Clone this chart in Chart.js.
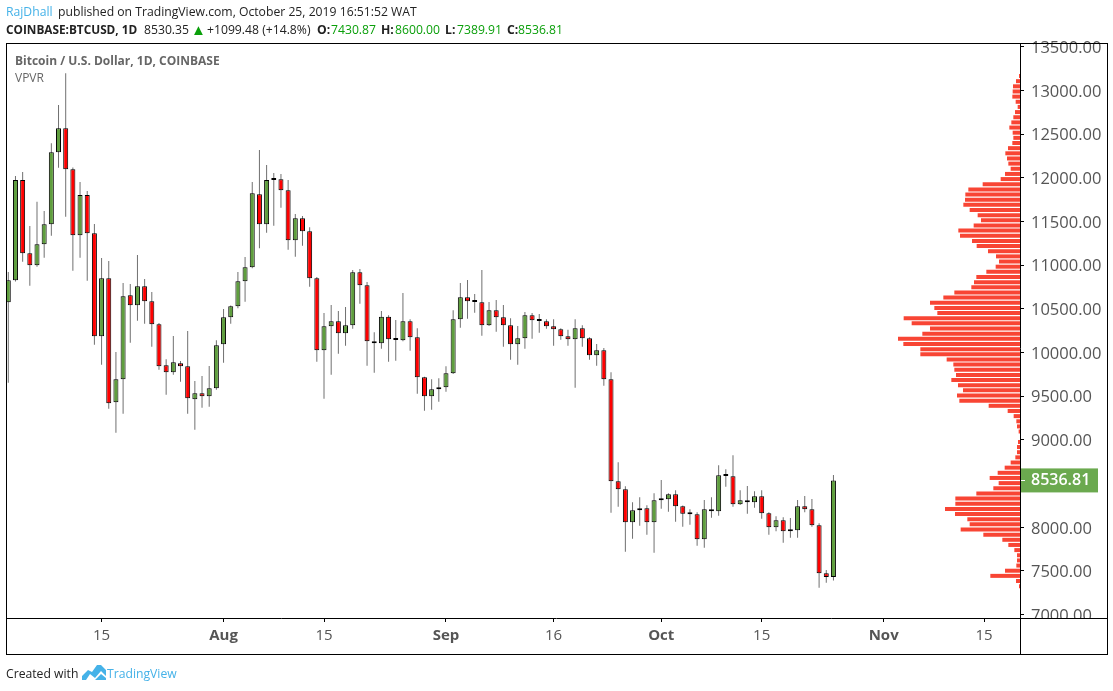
<!DOCTYPE html>
<html>
<head>
<meta charset="utf-8">
<script src="https://cdn.jsdelivr.net/npm/chart.js@4"></script>
<style>
  html, body { margin: 0; padding: 0; background: #fff; }
  #wrap { position: relative; width: 1113px; height: 691px; overflow: hidden; font-family: "Open Sans", sans-serif; }
  #wrap span { position: absolute; white-space: nowrap; }
  canvas { position: absolute; left: 0; top: 0; }
  #logo { position: absolute; left: 82px; top: 665px; }
  .head { font-size: 12.2px; color: #222; }
  .b { font-weight: 700; }
  .g { color: #0a9f0a; }
  .blue { color: #45b2e8; }
  .over { color: #666; font-size: 12px; }
</style>
</head>
<body>
<div id="wrap">
  <canvas id="chart" width="1113" height="691"></canvas>
  <span class="head blue" style="left:6px;top:3px">RajDhall</span>
  <span class="head" style="left:58px;top:3px">published on TradingView.com, October 25, 2019 16:51:52 WAT</span>
  <span class="head b" style="left:6px;top:21px;font-size:11.8px">COINBASE:BTCUSD, 1D</span>
  <span class="head" style="left:144px;top:21px">8530.35</span>
  <span class="head g" style="left:191px;top:19px;font-size:15px">▲</span>
  <span class="head" style="left:207px;top:21px">+1099.48 (+14.8%)</span>
  <span class="head b" style="left:317px;top:21px">O:</span>
  <span class="head g" style="left:331px;top:21px">7430.87</span>
  <span class="head b" style="left:381px;top:21px">H:</span>
  <span class="head g" style="left:395px;top:21px">8600.00</span>
  <span class="head b" style="left:445px;top:21px">L:</span>
  <span class="head g" style="left:457px;top:21px">7389.91</span>
  <span class="head b" style="left:507px;top:21px">C:</span>
  <span class="head g" style="left:518px;top:21px">8536.81</span>
  <span class="over b" style="left:15px;top:52px">Bitcoin / U.S. Dollar, 1D, COINBASE</span>
  <span class="over" style="left:15px;top:69px">VPVR</span>
  <span class="head" style="left:6px;top:665px">Created with</span>
  <svg id="logo" width="24" height="16" viewBox="0 0 24 16"><path d="M0 15 L0 11 L6 5 L10 7 L15 0 L19 0 L24 5 L24 11 L19 6 L13 13 L8 9 L4 15 Z M10 15 L13 15 L19 9 L24 13 L24 15 Z" fill="#45b2e8"/></svg>
  <span class="head blue" style="left:107px;top:665px">TradingView</span>
</div>
<script>
// daily candles, 2 Jul 2019 to 25 Oct 2019
const opens = [10576,10828,11976,11137,11000,11240,11469,12294,12568,12099,11343,11805,11366,10187,10851,9431,9694,10656,10542,10759,10588,10324,9855,9775,9878,9843,9465,9534,9500,9591,10095,10404,10530,10817,10977,11813,11469,11976,11984,11859,11286,11538,11389,10851,10027,10301,10359,10221,10313,10920,10771,10130,10107,10411,10152,10141,10359,10175,9717,9500,9580,9603,9763,10381,10633,10588,10576,10313,10485,10404,10313,10095,10164,10427,10370,10359,10301,10267,10187,10152,10278,10164,9969,10027,9694,8527,8435,8057,8194,8217,8057,8309,8320,8378,8240,8156,8149,7862,8206,8183,8595,8584,8263,8309,8286,8355,8160,8000,8080,7954,7965,8240,8206,8023,7473,7430.87];
const highs = [10923,12022,12068,11450,11728,11621,12397,12835,13198,12120,11954,11850,11473,11083,11049,10007,10797,10786,11118,10843,10694,10340,9923,10190,9904,10247,9675,9732,9847,10141,10499,10540,10923,11095,11954,12320,12148,12057,12045,11976,11587,11564,11435,10866,10454,10545,10476,10522,10946,10957,10809,10233,10476,10427,10373,10683,10381,10278,9725,9694,9706,9843,10485,10797,10831,10671,10946,10580,10602,10545,10393,10305,10465,10454,10442,10381,10381,10278,10262,10381,10313,10175,10099,10053,9775,8744,8469,8286,8343,8252,8389,8541,8389,8423,8250,8206,8172,8312,8343,8710,8664,8824,8423,8473,8412,8423,8172,8126,8114,8106,8312,8358,8324,8046,7511,8600];
const lows = [9656,10815,11041,10766,10984,11087,11339,12117,11556,10938,11087,10823,10091,9862,9358,9083,9301,10114,10365,10331,10068,9804,9518,9747,9667,9301,9117,9369,9381,9575,9885,10331,10507,10583,10965,11194,11373,11453,11659,11178,11098,11224,10755,9896,9472,9747,9988,10079,10274,10560,9850,9770,10045,9896,9907,10130,10022,9530,9335,9346,9438,9552,9755,10285,10388,10457,10194,10305,10239,10068,9919,9862,10045,10159,10228,10274,10079,10148,10079,9598,10068,9919,9850,9621,8167,8236,7720,7869,8018,7915,7709,8213,8178,8064,8007,8030,7789,7766,8110,8133,8465,8236,8255,8156,8224,8098,7915,7954,7824,7881,7881,8172,8007,7308,7366,7389.91];
const closes = [10828,11976,11137,11000,11240,11469,12294,12568,12099,11343,11805,11366,10187,10851,9420,9694,10645,10542,10759,10588,10324,9843,9775,9889,9843,9477,9534,9500,9591,10084,10404,10530,10817,10977,11824,11469,11976,11984,11859,11286,11538,11389,10851,10027,10301,10359,10221,10313,10920,10771,10130,10107,10411,10152,10145,10359,10175,9717,9500,9580,9603,9763,10381,10633,10588,10580,10313,10485,10404,10313,10095,10164,10427,10370,10362,10301,10267,10187,10152,10278,10164,9969,10027,9694,8527,8435,8057,8194,8217,8057,8309,8316,8378,8240,8156,8150,7862,8206,8183,8595,8587,8263,8309,8286,8355,8160,8000,8080,7954,7961,8240,8206,8023,7473,7431,8536.81];

// visible range profile: price level of each row and its relative volume
const vpLevels = [13167,13108,13049,12990,12931,12872,12813,12754,12695,12636,12577,12518,12459,12400,12341,12282,12223,12164,12105,12046,11987,11928,11869,11810,11751,11692,11633,11574,11515,11456,11397,11338,11279,11220,11161,11102,11043,10984,10925,10866,10807,10748,10689,10630,10571,10512,10453,10394,10335,10276,10217,10158,10099,10040,9981,9922,9863,9804,9745,9686,9627,9568,9509,9450,9391,9332,9273,9214,9155,9096,9037,8978,8919,8860,8801,8742,8683,8624,8565,8506,8447,8388,8329,8270,8211,8152,8093,8034,7975,7916,7857,7798,7739,7680,7621,7562,7503,7444,7385,7326];
const vpVolumes = [3,12,21,22,23,13,7,15,20,26,32,22,20,23,36,44,39,35,28,45,58,112,155,164,165,170,151,127,117,139,185,180,144,130,96,72,63,73,101,131,138,146,197,230,270,257,248,349,325,270,293,366,350,299,299,220,200,197,192,206,186,171,189,182,94,37,19,11,9,4,0,6,9,9,14,28,46,67,91,64,80,131,194,194,225,195,158,151,178,110,53,35,17,9,9,11,45,89,12,3];

const priceTicks = [7000,7500,8000,8500,9000,9500,10000,10500,11000,11500,12000,12500,13000,13500];
const dateTicks = [13,30,44,61,76,91,105,122,136];
const dateLabels = ["15","Aug","15","Sep","16","Oct","15","Nov","15"];
const lastPrice = 8536.81;

const GREEN = "#5f9e3e";
const RED = "#ff0000";
const TEXT = "#555";
const FONT = "'Open Sans', sans-serif";

const wicks = highs.map((h, i) => ({ x: i, y: [lows[i], h] }));
const bodies = opens.map((o, i) => ({ x: i, y: [o, closes[i]] }));
const bodyColors = opens.map((o, i) => (closes[i] >= o ? GREEN : RED));
const profile = vpVolumes.map((v, i) => ({ x: v, y: vpLevels[i] }));

// outer frame and the last price tag
const framePlugin = {
  id: "frame",
  afterDraw(chart) {
    const { ctx, chartArea: a, scales } = chart;
    ctx.save();
    // the lowest price label is cut off by the date strip
    ctx.fillStyle = "#fff";
    ctx.fillRect(a.right + 1, a.bottom + 1, 85, 9);
    ctx.strokeStyle = "#000";
    ctx.lineWidth = 1;
    ctx.strokeRect(a.left + 0.5, a.top + 0.5, 1107 - a.left, 654 - a.top);
    ctx.beginPath();
    ctx.moveTo(a.right + 0.5, a.top);
    ctx.lineTo(a.right + 0.5, 654);
    ctx.moveTo(a.left, a.bottom + 0.5);
    ctx.lineTo(1107, a.bottom + 0.5);
    ctx.stroke();
    const y = scales.y.getPixelForValue(lastPrice);
    ctx.fillStyle = "#6ba94f";
    ctx.fillRect(a.right + 1, y - 12, 77, 24);
    ctx.fillStyle = "#fff";
    ctx.fillRect(a.right + 1, Math.round(y), 4, 1);
    ctx.font = "600 16px " + FONT;
    ctx.textBaseline = "middle";
    ctx.fillText(lastPrice.toFixed(2), a.right + 11, y + 0.5);
    ctx.restore();
  },
};

new Chart(document.getElementById("chart"), {
  type: "bar",
  data: {
    datasets: [
      { data: wicks, backgroundColor: "#707070", barThickness: 1, grouped: false, inflateAmount: 0, order: 3 },
      { data: bodies, backgroundColor: bodyColors, borderColor: "#000", borderWidth: 1, borderSkipped: false, barThickness: 5, minBarLength: 2, grouped: false, inflateAmount: 0, order: 2 },
      { data: profile, indexAxis: "y", xAxisID: "vol", backgroundColor: "#f84534", barThickness: 4, grouped: false, inflateAmount: 0, order: 1 },
    ],
  },
  options: {
    responsive: false,
    animation: false,
    events: [],
    layout: { padding: { left: 6, top: 43, right: 6, bottom: 37 } },
    plugins: { legend: { display: false }, tooltip: { enabled: false } },
    scales: {
      x: {
        type: "linear",
        min: -0.32,
        max: 141,
        offset: false,
        afterBuildTicks: (s) => { s.ticks = dateTicks.map((v) => ({ value: v })); },
        afterFit: (s) => { s.height = 36; },
        grid: { drawOnChartArea: false, offset: false, tickLength: 4, tickColor: "#000" },
        border: { display: false },
        ticks: {
          autoSkip: false,
          maxRotation: 0,
          padding: 5,
          color: TEXT,
          font: (c) => ({ family: FONT, size: 15, weight: isNaN(dateLabels[c.index]) ? "700" : "400" }),
          callback: (v, i) => dateLabels[i],
        },
      },
      // no axis for this one, volume only has to stretch left from the price axis
      vol: {
        type: "linear",
        display: false,
        reverse: true,
        offset: false,
        min: 0,
        max: 3042,
        afterBuildTicks: () => {},
        afterFit: () => {},
      },
      y: {
        type: "linear",
        position: "right",
        offset: false,
        min: 6961.6,
        max: 13545,
        afterBuildTicks: (s) => { s.ticks = priceTicks.map((v) => ({ value: v })); },
        afterFit: (s) => { s.width = 87; },
        grid: { drawOnChartArea: false, offset: false, tickLength: 4, tickColor: "#000" },
        border: { display: false },
        ticks: {
          autoSkip: false,
          padding: 7,
          labelOffset: 1.5,
          color: TEXT,
          font: { family: FONT, size: 16.5 },
          callback: (v) => v.toFixed(2),
        },
      },
    },
  },
  plugins: [framePlugin],
});
</script>
</body>
</html>
